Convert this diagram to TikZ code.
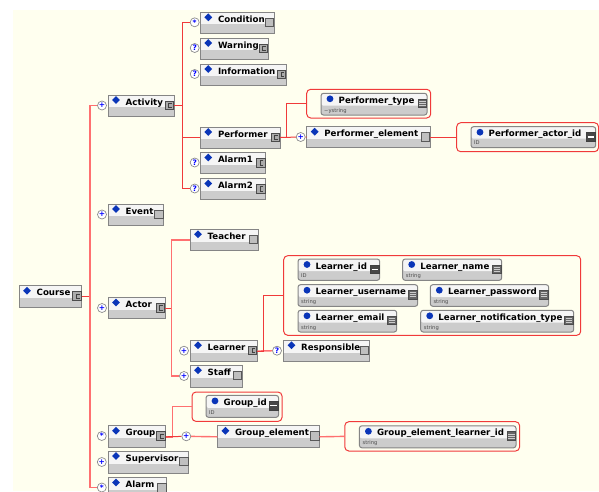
\documentclass[tikz,border=0pt]{standalone}
\usepackage{fontspec}
\setmainfont{DejaVu Sans}
\usetikzlibrary{shapes.geometric}
\definecolor{bgivory}{HTML}{FFFFEF}
\definecolor{linkred}{HTML}{F03A3A}
\definecolor{linkpink}{HTML}{FF7070}
\definecolor{boxgray}{HTML}{CCCCCC}
\definecolor{boxedge}{HTML}{858585}
\definecolor{diablue}{HTML}{0A35B8}
\tikzset{
  elembox/.style={draw=boxedge,line width=1pt,fill=boxgray,anchor=north west,inner sep=0,outer sep=0,
    path picture={\fill[white!96!black] (path picture bounding box.north west) rectangle ([yshift=-1.5pt]path picture bounding box.east);}},
  attrbox/.style={elembox,rounded corners=2.5pt},
  dia/.style={diamond,fill=diablue,inner sep=0,minimum size=8pt},
  dot/.style={circle,fill=diablue,inner sep=0,minimum size=6.8pt},
  lbl/.style={anchor=base west,inner sep=0,font=\fontsize{8.65}{9}\selectfont\bfseries,text=black},
  sublbl/.style={anchor=base west,inner sep=0,font=\fontsize{5.2}{6}\selectfont,text=black!70},
  ico/.style={anchor=north east,inner sep=0,outer sep=0,minimum size=8.5pt,line width=.8pt},
  circ/.style={circle,draw=black!45,fill=white,line width=.7pt,inner sep=0,minimum size=9pt,text=blue,font=\fontsize{7.5}{8}\selectfont\bfseries},
  group/.style={draw=linkred,line width=1pt,rounded corners=4pt,anchor=north west,inner sep=0,outer sep=0},
  link/.style={draw=linkred,line width=1pt},
  spine/.style={draw=linkpink,line width=1.4pt},
}
\newcommand{\elbox}[6]{%
  \pgfmathsetmacro\bw{#4-#2}\pgfmathsetmacro\bh{#5-#3}%
  \node[elembox,minimum width=\bw pt,minimum height=\bh pt] (#1) at (#2,#3) {};
  \node[dia] (#1-d) at (#2+8,#3+5) {};
  \node[lbl] (#1-l) at (#2+17.5,#3+10) {#6};
}
\newcommand{\atbox}[7]{%
  \pgfmathsetmacro\bw{#4-#2}\pgfmathsetmacro\bh{#5-#3}%
  \node[attrbox,minimum width=\bw pt,minimum height=\bh pt] (#1) at (#2,#3) {};
  \node[dot] (#1-d) at (#2+9,#3+5.5) {};
  \node[lbl] (#1-l) at (#2+17.5,#3+10) {#6};
  \node[sublbl] (#1-s) at (#2+3,#5-3) {#7};
}
\newcommand{\plainico}[1]{\node[ico,draw=black!65,fill=black!25] (#1-i) at ([xshift=-.5pt,yshift=-6pt]#1.north east) {};}
\newcommand{\cplxico}[1]{\node[ico,draw=black!70,fill=black!33] (#1-i) at ([xshift=-.5pt,yshift=-6pt]#1.north east) {};
  \draw[black!75,line width=.6pt] ([xshift=-1.6pt,yshift=-2.2pt]#1-i.north east) -- ([xshift=-.5pt,yshift=-2.2pt]#1-i.north) -- ([xshift=-.5pt,yshift=2.2pt]#1-i.south) -- ([xshift=-1.6pt,yshift=2.2pt]#1-i.south east);}
\newcommand{\strico}[1]{\node[ico,draw=black!70,fill=black!60] (#1-i) at ([xshift=-.5pt,yshift=-6pt]#1.north east) {};
  \foreach \dy in {2,4,6}{\draw[white!80!black,line width=.6pt] ([xshift=1pt,yshift=-\dy pt]#1-i.north west) -- ([xshift=-1pt,yshift=-\dy pt]#1-i.north east);}}
\newcommand{\idico}[1]{\node[ico,draw=black!75,fill=black!72] (#1-i) at ([xshift=-.5pt,yshift=-6pt]#1.north east) {};
  \draw[white,line width=1.1pt] ([xshift=.8pt]#1-i.west) -- ([xshift=-.8pt]#1-i.east);}
\newcommand{\grp}[5]{%
  \pgfmathsetmacro\bw{#4-#2}\pgfmathsetmacro\bh{#5-#3}%
  \node[group,minimum width=\bw pt,minimum height=\bh pt] (#1) at (#2,#3) {};
}
\begin{document}
\begin{tikzpicture}[x=1pt,y=-1pt]
\useasboundingbox (0,0) rectangle (599,491);
\clip (0,0) rectangle (599,491);
\fill[bgivory] (13,10) rectangle (599,491);

% spine coordinates
\coordinate (sA) at (90,0);
\coordinate (sB) at (182.5,0);
\coordinate (sC) at (286.7,0);
\coordinate (sD) at (171.7,0);
\coordinate (sE) at (263.7,0);
\coordinate (sF) at (172.4,0);

% elements
\elbox{course}{19}{285.7}{81.7}{307.3}{Course}\cplxico{course}
\elbox{activity}{108}{95}{174}{116.5}{Activity}\cplxico{activity}
\elbox{condition}{200.3}{12.3}{274}{33.3}{Condition}\plainico{condition}
\elbox{warning}{200.3}{38}{268}{59}{Warning}\cplxico{warning}
\elbox{information}{200.3}{64}{286.3}{85}{Information}\cplxico{information}
\elbox{performer}{200.3}{127}{280}{148}{Performer}\cplxico{performer}
\elbox{alarmone}{200.3}{152.5}{265.5}{173.5}{Alarm1}\cplxico{alarmone}
\elbox{alarmtwo}{200.3}{178.5}{265.5}{199.5}{Alarm2}\cplxico{alarmtwo}
\elbox{event}{108}{204}{163.5}{225}{Event}\plainico{event}
\elbox{perfel}{306.7}{126.7}{430}{147.7}{Performer\_element}\plainico{perfel}
\elbox{actor}{108}{297.5}{165}{318.5}{Actor}\cplxico{actor}
\elbox{teacher}{190}{229.3}{258.3}{250.7}{Teacher}\plainico{teacher}
\elbox{learner}{190}{340.3}{257.3}{361.7}{Learner}\cplxico{learner}
\elbox{responsible}{283.5}{340.3}{369}{361.7}{Responsible}\plainico{responsible}
\elbox{staff}{190}{365.3}{242}{387.3}{Staff}\plainico{staff}
\elbox{groupel}{108}{425.8}{165.6}{447.8}{Group}\cplxico{groupel}
\elbox{groupelem}{217.4}{425.8}{319.5}{447.8}{Group\_element}\plainico{groupelem}
\elbox{supervisor}{108}{451}{188.6}{473}{Supervisor}\plainico{supervisor}
\elbox{alarm}{108}{477.5}{166.7}{499.5}{Alarm}\plainico{alarm}

% attribute groups
\grp{gptype}{306.7}{89.3}{430.7}{118}
\grp{gpactor}{456.7}{122.7}{598.5}{151.7}
\grp{glearner}{283.7}{255.7}{580.7}{335.3}
\grp{ggid}{192}{392}{282}{421.4}
\grp{gglearner}{344.8}{421.7}{519.6}{451}

% attributes
\atbox{ptype}{321}{93.3}{427}{115}{Performer\_type}{\textasciitilde ystring}\strico{ptype}
\atbox{pactor}{471}{126.7}{595.7}{147.7}{Performer\_actor\_id}{ID}\idico{pactor}
\atbox{lid}{298}{259}{379.7}{280.3}{Learner\_id}{ID}\idico{lid}
\atbox{lname}{402.7}{259}{501.7}{280.3}{Learner\_name}{string}\strico{lname}
\atbox{luser}{298}{284.7}{417.7}{306.3}{Learner\_username}{string}\strico{luser}
\atbox{lpass}{430.3}{284.7}{548.7}{306.3}{Learner\_password}{string}\strico{lpass}
\atbox{lmail}{298}{310.3}{396.7}{332}{Learner\_email}{string}\strico{lmail}
\atbox{lnotif}{420.7}{310.3}{573.7}{332}{Learner\_notification\_type}{string}\strico{lnotif}
\atbox{gid}{206}{395.4}{278.6}{417.3}{Group\_id}{ID}\idico{gid}
\atbox{gelid}{359.4}{425.8}{516}{447.8}{Group\_element\_learner\_id}{string}\strico{gelid}

% occurrence markers
\node[circ] (c-activity) at (102,105.5) {+};
\node[circ] (c-event) at (102,214.5) {+};
\node[circ] (c-actor) at (102,308) {+};
\node[circ] (c-group) at (101.8,436) {*};
\node[circ] (c-supervisor) at (101.8,462) {+};
\node[circ] (c-alarm) at (101.8,487.5) {*};
\node[circ] (c-condition) at (194.7,22.3) {*};
\node[circ] (c-warning) at (194.7,48) {?};
\node[circ] (c-information) at (194.7,74) {?};
\node[circ] (c-alarmone) at (194.7,162.5) {?};
\node[circ] (c-alarmtwo) at (194.7,188.5) {?};
\node[circ] (c-perfel) at (300.7,137) {+};
\node[circ] (c-learner) at (184,350.7) {+};
\node[circ] (c-staff) at (184,376) {+};
\node[circ] (c-responsible) at (277,350.7) {?};
\node[circ] (c-groupelem) at (186.3,436.3) {+};

% connectors
\draw[link] (course.east) -- (sA |- course.east);
\draw[spine] (c-activity) -- (sA |- c-activity) -- (sA |- c-alarm) -- (c-alarm);
\draw[link] (activity.east) -- (sB |- activity.east);
\draw[link] (c-condition) -- (sB |- c-condition) -- (sB |- c-alarmtwo) -- (c-alarmtwo);
\draw[link] (sB |- performer.west) -- (performer.west);
\draw[link] (performer.east) -- (sC |- performer.east) |- (gptype.west);
\draw[link] (performer.east) -- (c-perfel);
\draw[link] (c-perfel) -- (perfel.west);
\draw[link] (perfel.east |- gpactor.west) -- (gpactor.west);
\draw[link] (actor.east) -- (sD |- actor.east);
\draw[spine] (teacher.west) -- (sD |- teacher.west) -- (sD |- c-staff) -- (c-staff);
\draw[spine] (learner.east) -- (c-responsible);
\draw[link] (learner.east) -- (sE |- learner.east) |- (glearner.west);
\draw[spine] (groupel.east) -- (sF |- groupel.east) |- (ggid.west);
\draw[link] (groupel.east) -- (c-groupelem);
\draw[spine] (c-groupelem) -- (groupelem.west);
\draw[spine] (groupelem.east) -- (gglearner.west);
\end{tikzpicture}
\end{document}
